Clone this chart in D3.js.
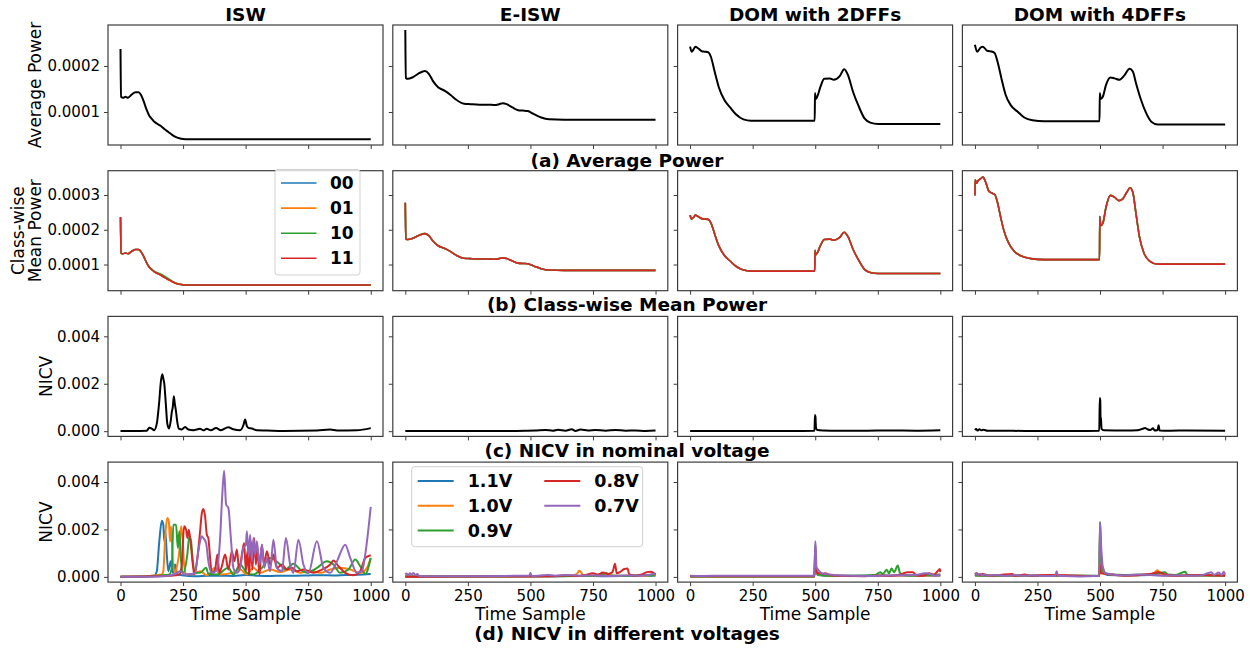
<!DOCTYPE html>
<html>
<head>
<meta charset="utf-8">
<script src="https://cdn.jsdelivr.net/npm/d3@7"></script>
<style>
  body { margin: 0; background: #fff; }
  svg text { font-family: "DejaVu Sans", sans-serif; fill: #000; }
</style>
</head>
<body>
<script>
// ---------- labels ----------
var colTitles = ["ISW", "E-ISW", "DOM with 2DFFs", "DOM with 4DFFs"];
var rowCaptions = ["(a) Average Power", "(b) Class-wise Mean Power",
                   "(c) NICV in nominal voltage", "(d) NICV in different voltages"];
var classLabels = ["00", "01", "10", "11"];
var voltLabels = ["1.1V", "1.0V", "0.9V", "0.8V", "0.7V"];
var xTicks = [0, 250, 500, 750, 1000];
var powerTicks = [1, 2];      // x 1e-4
var meanTicks = [1, 2, 3];    // x 1e-4
var nicvTicks = [0, 2, 4];    // x 1e-3

// ---------- (a) average power, [sample, value x 1e-4] ----------
var avgIsw = [[0,2.37],[2,1.33],[10,1.31],[20,1.33],[30,1.31],[45,1.38],[60,1.43],[72,1.43],[82,1.37],
  [92,1.24],[105,1.04],[115,0.92],[125,0.85],[135,0.79],[145,0.75],[160,0.70],[175,0.63],[190,0.57],
  [205,0.51],[220,0.46],[235,0.43],[250,0.415],[270,0.41],[400,0.41],[600,0.41],[800,0.41],[1000,0.41]];
var avgEisw = [[0,2.78],[2,1.74],[10,1.72],[28,1.75],[51,1.83],[70,1.88],[78,1.89],[94,1.83],[112,1.66],
  [131,1.54],[158,1.46],[181,1.37],[205,1.26],[235,1.18],[260,1.17],[297,1.16],[330,1.16],[358,1.15],
  [375,1.17],[389,1.19],[405,1.17],[428,1.10],[451,1.04],[470,1.03],[489,1.02],[512,0.96],[543,0.88],
  [574,0.84],[635,0.83],[800,0.83],[1000,0.83]];
var avgDom2 = [[0,2.42],[6,2.31],[14,2.36],[21,2.42],[30,2.39],[37,2.36],[47,2.32],[57,2.31],[72,2.30],
  [83,2.20],[98,1.88],[114,1.55],[137,1.26],[160,1.10],[183,0.95],[213,0.84],[244,0.81],[300,0.81],
  [400,0.81],[498,0.81],[499,1.41],[502,1.28],[508,1.33],[521,1.55],[536,1.72],[559,1.73],[574,1.70],
  [598,1.78],[616,1.93],[631,1.80],[651,1.44],[674,1.12],[697,0.86],[720,0.77],[751,0.74],[850,0.74],[1000,0.74]];
var avgDom4 = [[0,2.46],[9,2.31],[23,2.40],[32,2.42],[49,2.33],[70,2.31],[79,2.28],[92,2.06],[106,1.73],
  [123,1.37],[143,1.15],[170,1.01],[197,0.88],[230,0.82],[277,0.80],[400,0.80],[498,0.80],[499,1.41],
  [503,1.28],[511,1.33],[524,1.59],[541,1.75],[558,1.73],[578,1.70],[598,1.80],[618,1.94],[631,1.88],
  [644,1.62],[664,1.26],[685,0.97],[705,0.79],[731,0.73],[850,0.73],[1000,0.73]];

// ---------- (b) class-wise mean power (classes overlap almost exactly) ----------
var meanIsw10 = [[0,2.37],[2,1.33],[10,1.31],[20,1.33],[30,1.31],[45,1.38],[60,1.43],[72,1.43],[82,1.37],
  [92,1.24],[105,1.04],[115,0.93],[125,0.86],[135,0.81],[145,0.77],[160,0.73],[175,0.67],[190,0.60],
  [205,0.53],[220,0.47],[235,0.43],[250,0.415],[270,0.41],[400,0.41],[600,0.41],[800,0.41],[1000,0.41]];
var meanDom4 = [[0,2.99],[1,3.44],[7,3.34],[13,3.42],[23,3.47],[32,3.52],[43,3.37],[56,3.11],[70,3.05],
  [80,3.01],[90,2.79],[103,2.36],[116,1.97],[136,1.60],[156,1.39],[183,1.25],[223,1.17],[277,1.14],
  [400,1.14],[498,1.14],[499,2.38],[503,2.12],[511,2.18],[524,2.65],[541,2.99],[558,2.94],[575,2.84],
  [591,2.89],[607,3.08],[620,3.21],[631,3.08],[644,2.45],[658,1.78],[675,1.34],[698,1.10],[731,1.01],
  [850,1.01],[1000,1.01]];

// ---------- (c) NICV nominal voltage, [sample, value x 1e-3] ----------
var nicvIsw = [[0,0.01],[50,0.01],[105,0.02],[115,0.15],[125,0.11],[134,0.04],[145,0.32],[154,1.16],
  [162,2.15],[167,2.40],[171,2.22],[175,2.00],[181,1.16],[187,0.32],[194,0.11],[201,0.46],[205,0.81],
  [209,1.02],[213,1.47],[217,1.16],[222,0.81],[226,0.46],[233,0.11],[245,0.07],[258,0.18],[271,0.07],
  [291,0.04],[318,0.10],[331,0.04],[345,0.10],[361,0.04],[382,0.13],[401,0.04],[431,0.17],[451,0.08],
  [478,0.04],[491,0.25],[498,0.49],[505,0.21],[511,0.14],[525,0.11],[545,0.04],[585,0.03],[651,0.01],
  [785,0.03],[838,0.07],[865,0.03],[945,0.04],[1000,0.13]];
var nicvEisw = [[0,0.01],[100,0.01],[200,0.01],[300,0.01],[400,0.01],[480,0.02],[520,0.03],[560,0.05],
  [590,0.02],[610,0.06],[640,0.02],[665,0.08],[680,0.01],[700,0.07],[730,0.03],[760,0.05],[800,0.02],
  [840,0.05],[880,0.02],[920,0.03],[960,0.01],[1000,0.03]];
var nicvDom2 = [[0,0.01],[100,0.01],[200,0.01],[300,0.01],[400,0.01],[497,0.02],[499,0.68],[501,0.60],
  [503,0.15],[508,0.05],[530,0.03],[600,0.02],[700,0.02],[800,0.03],[900,0.02],[1000,0.04]];
var nicvDom4 = [[0,0.05],[5,0.09],[10,0.03],[18,0.08],[25,0.04],[35,0.06],[50,0.02],[100,0.02],[200,0.01],
  [300,0.01],[400,0.01],[497,0.02],[499,1.40],[501,1.30],[502,0.60],[504,0.50],[506,0.10],[515,0.04],
  [600,0.03],[650,0.04],[670,0.10],[680,0.13],[690,0.08],[700,0.05],[712,0.12],[718,0.03],[730,0.05],
  [734,0.25],[738,0.03],[780,0.02],[850,0.03],[1000,0.02]];

// ---------- (d) NICV per voltage, [sample, value x 1e-3] ----------
var vIsw11 = [[0,0.01],[50,0.01],[100,0.02],[120,0.04],[135,0.05],[145,0.24],[155,1.50],[165,2.37],
  [171,2.20],[175,1.50],[179,1.92],[185,0.94],[191,0.24],[201,0.66],[209,0.17],[218,0.52],[227,0.10],
  [245,0.07],[300,0.03],[350,0.05],[400,0.05],[450,0.04],[500,0.08],[550,0.05],[600,0.04],[650,0.05],
  [700,0.05],[750,0.06],[800,0.07],[850,0.06],[900,0.08],[950,0.09],[1000,0.12]];
var vIsw10 = [[0,0.01],[100,0.02],[130,0.05],[150,0.08],[165,0.10],[171,0.24],[179,1.78],[187,2.48],
  [193,2.34],[198,1.50],[202,2.13],[209,0.66],[218,0.17],[227,0.52],[235,1.08],[242,2.13],[247,1.78],
  [254,0.52],[262,0.10],[290,0.12],[318,0.24],[345,0.07],[378,0.38],[398,0.10],[445,0.17],[478,0.31],
  [505,0.10],[531,0.38],[558,0.17],[598,0.31],[638,0.21],[678,0.31],[718,0.17],[758,0.27],[798,0.17],
  [838,0.31],[878,0.38],[918,0.31],[958,0.17],[985,0.38],[1000,0.80]];
var vIsw09 = [[0,0.01],[100,0.02],[150,0.05],[180,0.08],[195,0.10],[205,0.38],[211,2.20],[222,2.20],
  [229,1.22],[235,1.92],[242,0.66],[251,0.17],[267,0.94],[275,1.71],[282,1.50],[289,0.66],[298,0.17],
  [318,0.17],[342,0.38],[351,0.13],[385,0.10],[431,0.38],[451,0.10],[478,0.52],[505,0.17],[531,0.10],
  [565,0.38],[598,0.80],[638,0.52],[658,0.31],[691,0.55],[718,0.31],[745,0.17],[785,0.38],[825,0.66],
  [851,0.52],[878,0.17],[911,0.31],[938,0.73],[958,0.45],[978,0.13],[1000,0.80]];
var vIsw08 = [[0,0.01],[100,0.02],[150,0.03],[200,0.05],[235,0.10],[245,0.52],[254,2.13],[262,1.99],
  [267,1.64],[273,1.99],[281,1.36],[289,0.52],[295,0.10],[307,0.80],[318,1.92],[325,2.69],[331,2.86],
  [338,2.55],[345,1.78],[351,1.64],[358,0.80],[365,0.17],[378,0.31],[387,0.94],[395,0.17],[405,0.45],
  [418,0.94],[431,0.31],[445,1.08],[455,0.66],[465,1.15],[474,0.31],[485,0.94],[494,1.43],[501,0.24],
  [507,1.08],[514,0.10],[521,1.50],[527,0.31],[534,1.64],[541,0.52],[547,1.22],[555,0.10],[565,1.36],
  [574,0.52],[585,1.08],[598,0.52],[611,0.94],[625,0.38],[645,0.52],[665,0.31],[685,0.38],[705,0.24],
  [731,0.31],[771,0.17],[805,0.31],[838,0.52],[851,0.69],[871,0.45],[898,0.17],[931,0.07],[958,0.24],
  [978,0.80],[1000,0.91]];
var vIsw07 = [[0,0.01],[100,0.01],[150,0.02],[190,0.05],[211,0.10],[225,0.15],[238,0.24],[258,0.10],
  [280,0.12],[298,0.17],[311,1.08],[318,1.50],[325,1.71],[331,1.64],[342,1.43],[351,0.66],[365,0.17],
  [385,0.31],[398,1.64],[406,3.33],[414,4.48],[422,3.05],[431,2.91],[441,1.64],[451,0.38],[465,0.17],
  [478,0.38],[491,1.22],[501,1.36],[505,1.92],[511,0.94],[518,1.78],[525,0.66],[531,1.64],[538,0.94],
  [545,1.50],[555,0.52],[565,1.36],[574,0.38],[585,0.80],[598,0.24],[611,1.57],[625,0.38],[645,0.24],
  [661,1.64],[678,0.52],[691,0.17],[711,1.57],[731,0.52],[751,0.17],[785,1.50],[811,0.38],[838,0.17],
  [865,0.66],[898,1.36],[918,0.80],[945,0.17],[965,0.24],[978,0.94],[1000,2.95]];

var vEisw11 = [[0,0.03],[40,0.02],[100,0.02],[200,0.02],[300,0.02],[400,0.03],[500,0.03],[600,0.03],
  [700,0.04],[800,0.03],[900,0.04],[1000,0.05]];
var vEisw10 = [[0,0.02],[100,0.02],[300,0.02],[500,0.03],[600,0.04],[660,0.05],[685,0.12],[695,0.26],
  [702,0.20],[712,0.06],[750,0.05],[800,0.08],[850,0.04],[900,0.06],[950,0.05],[1000,0.08]];
var vEisw09 = [[0,0.02],[200,0.02],[400,0.02],[600,0.03],[700,0.04],[760,0.05],[790,0.12],[805,0.16],
  [815,0.06],[850,0.05],[900,0.04],[950,0.08],[980,0.05],[1000,0.12]];
var vEisw08 = [[0,0.01],[100,0.01],[300,0.02],[500,0.02],[600,0.03],[650,0.06],[690,0.04],[720,0.08],
  [750,0.15],[770,0.10],[790,0.18],[810,0.12],[828,0.20],[838,0.55],[845,0.15],[860,0.22],[875,0.33],
  [888,0.35],[895,0.10],[920,0.05],[945,0.10],[965,0.20],[980,0.22],[990,0.18],[1000,0.10]];
var vEisw07 = [[0,0.10],[5,0.14],[12,0.08],[18,0.15],[25,0.10],[32,0.16],[40,0.08],[48,0.12],[55,0.04],
  [100,0.03],[200,0.03],[300,0.03],[400,0.04],[480,0.05],[495,0.04],[500,0.16],[505,0.04],[540,0.06],
  [570,0.08],[600,0.05],[640,0.08],[700,0.05],[760,0.06],[820,0.04],[880,0.06],[940,0.05],[980,0.10],[1000,0.14]];

var vDom2_11 = [[0,0.02],[200,0.02],[400,0.02],[497,0.02],[500,1.20],[503,0.30],[510,0.08],[560,0.04],
  [700,0.05],[800,0.06],[1000,0.05]];
var vDom2_10 = [[0,0.02],[200,0.02],[400,0.02],[497,0.02],[500,1.30],[503,0.30],[510,0.10],[560,0.05],
  [700,0.04],[850,0.06],[1000,0.06]];
var vDom2_09 = [[0,0.02],[200,0.02],[497,0.02],[500,1.35],[504,0.35],[512,0.10],[560,0.05],[650,0.05],
  [740,0.08],[760,0.20],[770,0.12],[785,0.30],[795,0.15],[805,0.35],[815,0.20],[830,0.48],[838,0.18],
  [850,0.10],[880,0.05],[950,0.08],[1000,0.10]];
var vDom2_08 = [[0,0.03],[200,0.03],[400,0.03],[497,0.03],[500,0.90],[504,0.25],[510,0.15],[520,0.18],
  [530,0.12],[540,0.15],[560,0.08],[600,0.05],[700,0.03],[760,0.06],[800,0.04],[840,0.10],[870,0.20],
  [890,0.20],[905,0.06],[930,0.05],[955,0.15],[975,0.10],[990,0.25],[998,0.33],[1000,0.20]];
var vDom2_07 = [[0,0.05],[50,0.04],[150,0.05],[300,0.05],[450,0.05],[497,0.05],[500,1.50],[502,1.20],
  [505,0.40],[512,0.30],[525,0.15],[560,0.10],[600,0.06],[700,0.04],[800,0.06],[900,0.08],[940,0.15],
  [960,0.12],[980,0.05],[1000,0.10]];

var vDom4_11 = [[0,0.08],[20,0.05],[100,0.05],[300,0.05],[497,0.04],[500,1.80],[504,0.60],[510,0.20],
  [530,0.08],[600,0.06],[700,0.08],[800,0.05],[1000,0.06]];
var vDom4_10 = [[0,0.06],[100,0.05],[300,0.05],[497,0.04],[500,2.00],[504,0.70],[512,0.20],[540,0.10],
  [600,0.06],[700,0.10],[720,0.20],[730,0.28],[740,0.10],[800,0.05],[1000,0.07]];
var vDom4_09 = [[0,0.06],[100,0.05],[497,0.05],[500,2.32],[503,1.20],[508,0.50],[515,0.20],[540,0.10],
  [600,0.08],[700,0.10],[760,0.20],[770,0.10],[800,0.08],[840,0.22],[850,0.08],[1000,0.06]];
var vDom4_08 = [[0,0.10],[8,0.15],[15,0.08],[30,0.12],[60,0.05],[100,0.08],[150,0.12],[160,0.04],
  [200,0.10],[220,0.05],[300,0.08],[400,0.05],[497,0.04],[500,0.50],[504,0.15],[550,0.10],[600,0.05],
  [700,0.12],[735,0.20],[760,0.10],[800,0.05],[900,0.08],[1000,0.05]];
var vDom4_07 = [[0,0.12],[5,0.15],[10,0.08],[20,0.12],[30,0.06],[40,0.10],[60,0.05],[90,0.08],[120,0.04],
  [160,0.07],[200,0.05],[240,0.06],[280,0.04],[320,0.05],[327,0.24],[332,0.04],[380,0.03],[420,0.02],
  [460,0.03],[497,0.04],[500,2.28],[502,2.00],[504,1.40],[507,0.90],[510,0.50],[515,0.30],[520,0.15],
  [540,0.12],[560,0.08],[600,0.06],[650,0.10],[700,0.08],[750,0.05],[800,0.06],[850,0.05],[900,0.06],
  [930,0.15],[945,0.20],[955,0.08],[975,0.18],[985,0.08],[995,0.22],[1000,0.10]];

// ---------- layout ----------
var width = 1256, height = 649;
var panelW = 275, panelH = 120;
var colLeft = [108, 392.8, 677.6, 962.4];
var rowTop = [25, 170.7, 316.4, 462.1];
var xDomain = [-50, 1049];
var tab = ["#1f77b4", "#ff7f0e", "#2ca02c", "#d62728", "#9467bd"];
var frameColor = "#3c3c3c";

var svg = d3.select("body").append("svg")
            .attr("width", width)
            .attr("height", height);

function drawPanel(r, c, yDomain, yTicks, yFmt, lines) {
  var g = svg.append("g")
             .attr("transform", "translate(" + colLeft[c] + "," + rowTop[r] + ")");
  var x = d3.scaleLinear().domain(xDomain).range([0, panelW]);
  var y = d3.scaleLinear().domain(yDomain).range([panelH, 0]);

  var clipId = "clip" + r + "_" + c;
  g.append("clipPath").attr("id", clipId)
   .append("rect").attr("width", panelW).attr("height", panelH);

  var line = d3.line()
               .x(function(d) { return x(d[0]); })
               .y(function(d) { return y(d[1]); })
               .curve(d3.curveMonotoneX);

  var plot = g.append("g").attr("clip-path", "url(#" + clipId + ")");
  lines.forEach(function(s) {
    plot.append("path")
        .datum(s.data)
        .attr("fill", "none")
        .attr("stroke", s.color)
        .attr("stroke-width", s.width)
        .attr("stroke-linejoin", "round")
        .attr("d", line);
  });

  // x axis (labels only on bottom row)
  var xAxis = d3.axisBottom(x)
                .tickValues(xTicks)
                .tickSize(4)
                .tickPadding(4.5)
                .tickFormat(function(d) { return r === 3 ? d : ""; });
  var gx = g.append("g").attr("transform", "translate(0," + panelH + ")").call(xAxis);

  // y axis (labels only on first column)
  var yAxis = d3.axisLeft(y)
                .tickValues(yTicks)
                .tickSize(4)
                .tickPadding(4)
                .tickFormat(function(d) { return c === 0 ? yFmt(d) : ""; });
  var gy = g.append("g").call(yAxis);

  [gx, gy].forEach(function(a) {
    a.select(".domain").remove();
    a.selectAll(".tick line").attr("stroke", frameColor).attr("stroke-width", 1);
    a.selectAll(".tick text")
     .style("font-family", "DejaVu Sans")
     .style("font-size", "15px")
     .attr("fill", "#000");
  });

  g.append("rect")
   .attr("width", panelW)
   .attr("height", panelH)
   .attr("fill", "none")
   .attr("stroke", frameColor)
   .attr("stroke-width", 1.2);
}

var powerFmt = function(d) { return (d * 1e-4).toFixed(4); };
var nicvFmt = function(d) { return (d * 1e-3).toFixed(3); };
var powerDomain = [0.283, 2.89];
var meanDomain = [0.246, 3.70];
var nicvDomain = [-0.22, 4.84];

// row (a)
[avgIsw, avgEisw, avgDom2, avgDom4].forEach(function(data, c) {
  drawPanel(0, c, powerDomain, powerTicks, powerFmt, [{data: data, color: "#000", width: 2}]);
});

// row (b)
var meanSets = [
  [avgIsw, avgIsw, meanIsw10, avgIsw],
  [avgEisw, avgEisw, avgEisw, avgEisw],
  [avgDom2, avgDom2, avgDom2, avgDom2],
  [meanDom4, meanDom4, meanDom4, meanDom4]
];
meanSets.forEach(function(set, c) {
  drawPanel(1, c, meanDomain, meanTicks, powerFmt, set.map(function(d, i) {
    return {data: d, color: tab[i], width: 1.6};
  }));
});

// row (c)
[nicvIsw, nicvEisw, nicvDom2, nicvDom4].forEach(function(data, c) {
  drawPanel(2, c, nicvDomain, nicvTicks, nicvFmt, [{data: data, color: "#000", width: 2}]);
});

// row (d)
var voltSets = [
  [vIsw11, vIsw10, vIsw09, vIsw08, vIsw07],
  [vEisw11, vEisw10, vEisw09, vEisw08, vEisw07],
  [vDom2_11, vDom2_10, vDom2_09, vDom2_08, vDom2_07],
  [vDom4_11, vDom4_10, vDom4_09, vDom4_08, vDom4_07]
];
voltSets.forEach(function(set, c) {
  drawPanel(3, c, nicvDomain, nicvTicks, nicvFmt, set.map(function(d, i) {
    return {data: d, color: tab[i], width: 2};
  }));
});

// column titles
colTitles.forEach(function(t, c) {
  svg.append("text")
     .attr("x", colLeft[c] + panelW / 2)
     .attr("y", 20.5)
     .attr("text-anchor", "middle")
     .style("font-size", "18.5px")
     .style("font-weight", "bold")
     .text(t);
});

// row captions
var captionY = [167, 311, 456.5, 640];
rowCaptions.forEach(function(t, r) {
  svg.append("text")
     .attr("x", 627)
     .attr("y", captionY[r])
     .attr("text-anchor", "middle")
     .style("font-size", "18.5px")
     .style("font-weight", "bold")
     .text(t);
});

// y labels
function yLabel(txt, cx, cy) {
  svg.append("text")
     .attr("transform", "translate(" + cx + "," + cy + ") rotate(-90)")
     .attr("text-anchor", "middle")
     .attr("dy", "0.36em")
     .style("font-size", "17px")
     .text(txt);
}
yLabel("Average Power", 35, rowTop[0] + panelH / 2);
yLabel("Class-wise", 17.5, rowTop[1] + panelH / 2);
yLabel("Mean Power", 35, rowTop[1] + panelH / 2);
yLabel("NICV", 45.5, rowTop[2] + panelH / 2);
yLabel("NICV", 45.5, rowTop[3] + panelH / 2);

// x labels
colLeft.forEach(function(l) {
  svg.append("text")
     .attr("x", l + panelW / 2)
     .attr("y", 620)
     .attr("text-anchor", "middle")
     .style("font-size", "17px")
     .text("Time Sample");
});

// legend (b)
var leg1 = svg.append("g");
leg1.append("rect")
    .attr("x", 275).attr("y", 169.5)
    .attr("width", 85).attr("height", 105.5)
    .attr("rx", 3)
    .attr("fill", "#fff").attr("fill-opacity", 0.8)
    .attr("stroke", "#d0d0d0");
classLabels.forEach(function(lab, i) {
  var yy = 183 + i * 25.1;
  leg1.append("line")
      .attr("x1", 281).attr("x2", 316.5)
      .attr("y1", yy).attr("y2", yy)
      .attr("stroke", tab[i]).attr("stroke-width", 1.6);
  leg1.append("text")
      .attr("x", 330).attr("y", yy)
      .attr("dy", "0.36em")
      .style("font-size", "17px")
      .style("font-weight", "bold")
      .text(lab);
});

// legend (d)
var leg2 = svg.append("g");
leg2.append("rect")
    .attr("x", 411.7).attr("y", 466.7)
    .attr("width", 231).attr("height", 80)
    .attr("rx", 3)
    .attr("fill", "#fff").attr("fill-opacity", 0.8)
    .attr("stroke", "#d0d0d0");
voltLabels.forEach(function(lab, i) {
  var col = i < 3 ? 0 : 1;
  var row = i < 3 ? i : i - 3;
  var hx = col === 0 ? 417.7 : 544.3;
  var yy = 481 + row * 24.7;
  leg2.append("line")
      .attr("x1", hx).attr("x2", hx + 36)
      .attr("y1", yy).attr("y2", yy)
      .attr("stroke", tab[i]).attr("stroke-width", 2);
  leg2.append("text")
      .attr("x", hx + 50).attr("y", yy)
      .attr("dy", "0.36em")
      .style("font-size", "17.5px")
      .style("font-weight", "bold")
      .text(lab);
});
</script>
</body>
</html>
